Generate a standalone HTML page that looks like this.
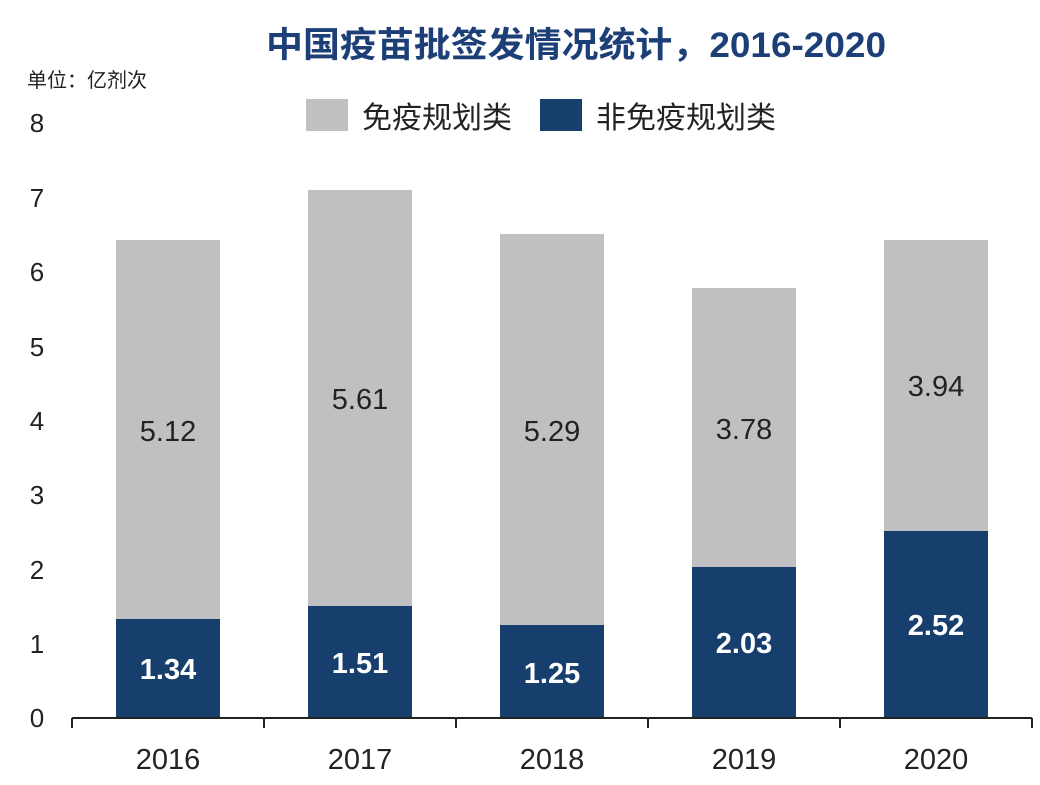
<!DOCTYPE html>
<html><head><meta charset="utf-8"><style>
body{margin:0;background:#fff;}
svg text{font-family:"Liberation Sans","Noto Sans CJK SC",sans-serif;}
</style></head><body>
<svg width="1040" height="780" xmlns="http://www.w3.org/2000/svg">
<rect width="1040" height="780" fill="#fff"/>
<text x="576" y="57" font-size="35" font-weight="bold" fill="#1d3f78" text-anchor="middle" textLength="620" lengthAdjust="spacingAndGlyphs">中国疫苗批签发情况统计，2016-2020</text>
<text x="27" y="87" font-size="20" fill="#222">单位：亿剂次</text>
<rect x="306" y="99" width="42" height="32" fill="#c0c0c2"/>
<text x="362" y="128" font-size="30" fill="#222">免疫规划类</text>
<rect x="540" y="99" width="42" height="32" fill="#173f6e"/>
<text x="596" y="128" font-size="30" fill="#222">非免疫规划类</text>
<g font-size="26" fill="#222" text-anchor="middle">
<text x="37" y="132">8</text><text x="37" y="207">7</text><text x="37" y="281">6</text><text x="37" y="356">5</text><text x="37" y="430">4</text><text x="37" y="504">3</text><text x="37" y="579">2</text><text x="37" y="653">1</text><text x="37" y="727">0</text>
</g>
<g id="bars">
<rect x="116" y="240" width="104" height="381" fill="#c0c0c2"/><rect x="116" y="619" width="104" height="99" fill="#173f6e"/>
<rect x="308" y="190" width="104" height="418" fill="#c0c0c2"/><rect x="308" y="606" width="104" height="112" fill="#173f6e"/>
<rect x="500" y="234" width="104" height="394" fill="#c0c0c2"/><rect x="500" y="625" width="104" height="93" fill="#173f6e"/>
<rect x="692" y="288" width="104" height="282" fill="#c0c0c2"/><rect x="692" y="567" width="104" height="151" fill="#173f6e"/>
<rect x="884" y="240" width="104" height="293" fill="#c0c0c2"/><rect x="884" y="531" width="104" height="187" fill="#173f6e"/>
</g>
<g font-size="29" fill="#222" text-anchor="middle">
<text x="168" y="441">5.12</text><text x="360" y="409">5.61</text><text x="552" y="441">5.29</text><text x="744" y="439">3.78</text><text x="936" y="396">3.94</text>
</g>
<g font-size="29" fill="#fff" text-anchor="middle" font-weight="bold">
<text x="168" y="679">1.34</text><text x="360" y="673">1.51</text><text x="552" y="683">1.25</text><text x="744" y="653">2.03</text><text x="936" y="635">2.52</text>
</g>
<path d="M72 718H1032M72 718V728M264 718V728M456 718V728M648 718V728M840 718V728M1032 718V728" stroke="#222" stroke-width="2" fill="none"/>
<g font-size="29" fill="#222" text-anchor="middle">
<text x="168" y="769">2016</text><text x="360" y="769">2017</text><text x="552" y="769">2018</text><text x="744" y="769">2019</text><text x="936" y="769">2020</text>
</g>
</svg>
</body></html>
